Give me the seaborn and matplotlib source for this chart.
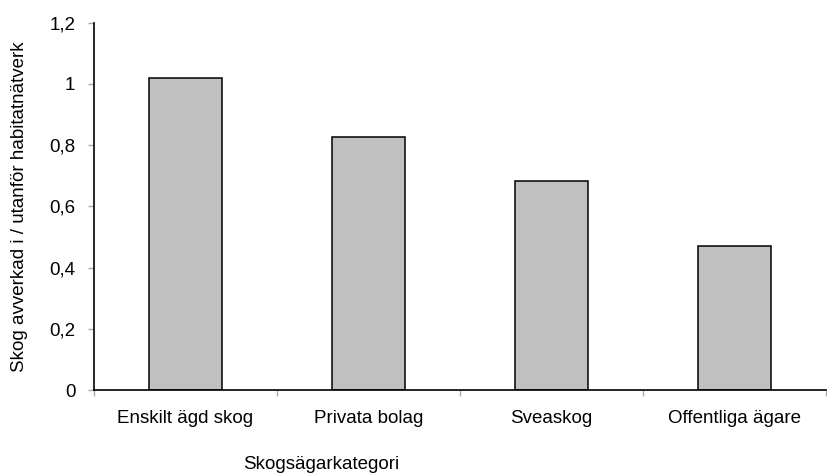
import matplotlib
matplotlib.use("Agg")
import matplotlib.pyplot as plt
import seaborn as sns
import pandas as pd

categories = ["Enskilt ägd skog", "Privata bolag", "Sveaskog", "Offentliga ägare"]
values = [1.018, 0.827, 0.684, 0.469]
yticks = [0, 0.2, 0.4, 0.6, 0.8, 1.0, 1.2]
ytick_labels = ["0", "0,2", "0,4", "0,6", "0,8", "1", "1,2"]

df = pd.DataFrame({"kategori": categories, "andel": values})

sns.set_theme(style="white")
plt.rcParams["font.family"] = ["Liberation Sans", "DejaVu Sans"]
plt.rcParams["text.color"] = "black"
plt.rcParams["xtick.color"] = "black"
plt.rcParams["ytick.color"] = "black"
plt.rcParams["axes.labelcolor"] = "black"

W, H = 827, 473
fig = plt.figure(figsize=(W / 100, H / 100), dpi=100)
ax = fig.add_axes([94 / W, 1 - 390 / H, (826 - 94) / W, (390 - 22.7) / H])

sns.barplot(data=df, x="kategori", y="andel", color="#c0c0c0", width=0.4,
            edgecolor="black", linewidth=1.1, saturation=1, ax=ax)

ax.set_ylim(0, 1.2)
ax.set_xlim(-0.5, len(categories) - 0.5)
ax.set_yticks(yticks)
ax.set_yticklabels(ytick_labels, fontsize=13.5)
ax.tick_params(axis="x", labelsize=13.5, pad=14.5)

# category separators on the x axis
ax.set_xticks([i - 0.5 for i in range(len(categories) + 1)], minor=True)
ax.tick_params(axis="x", which="major", length=0)
ax.tick_params(axis="x", which="minor", length=4.5, color="#aaaaaa", width=1,
               direction="out", bottom=True)
ax.tick_params(axis="y", length=4.5, color="#aaaaaa", labelcolor="black",
               width=1, direction="out", left=True, pad=9)

for side in ["top", "right"]:
    ax.spines[side].set_visible(False)
for side in ["left", "bottom"]:
    ax.spines[side].set_color("black")
    ax.spines[side].set_linewidth(1.2)

ax.set_xlabel("Skogsägarkategori", fontsize=13.5)
ax.xaxis.set_label_coords((321 - 94) / (826 - 94), -(456 - 390) / (390 - 22.7))
ax.set_ylabel("Skog avverkad i / utanför habitatnätverk", fontsize=13.5)
ax.yaxis.set_label_coords(-(94 - 28) / (826 - 94), 0.5)

fig.savefig("out.png", dpi=100)
